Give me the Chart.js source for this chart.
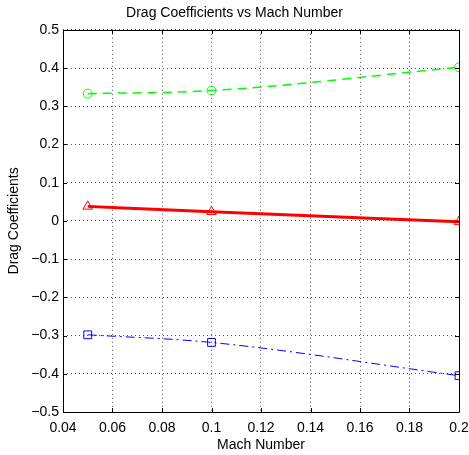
<!DOCTYPE html>
<html>
<head>
<meta charset="utf-8">
<script src="https://cdn.jsdelivr.net/npm/chart.js@4/dist/chart.umd.min.js"></script>
<style>
  html, body { margin: 0; padding: 0; background: #fff; }
  #wrap { width: 469px; height: 455px; position: relative; }
</style>
</head>
<body>
<div id="wrap"><canvas id="dragChart"></canvas></div>
<script>
// Data
const machNumbers = [0.05, 0.1, 0.2];
const seriesGreen = [0.333, 0.341, 0.402];
const seriesRed = [0.038, 0.024, -0.002];
const seriesBlue = [-0.298, -0.318, -0.405];
const xTicks = [0.04, 0.06, 0.08, 0.1, 0.12, 0.14, 0.16, 0.18, 0.2];
const yTicks = [-0.5, -0.4, -0.3, -0.2, -0.1, 0, 0.1, 0.2, 0.3, 0.4, 0.5];

const fontFamily = 'Liberation Sans, Arial, Helvetica, sans-serif';

function toPoints(values) {
    return machNumbers.map(function(x, i) { return { x: x, y: values[i] }; });
}

function fmt(v) {
    const s = String(Number(v.toFixed(2)));
    return s.replace('-', '\u2212');
}

// MATLAB-like box: frame on all sides with small inward ticks
const boxPlugin = {
    id: 'matlabBox',
    afterDraw: function(chart) {
        const ctx = chart.ctx;
        const a = chart.chartArea;
        const xs = chart.scales.x, ys = chart.scales.y;
        ctx.save();
        ctx.strokeStyle = '#000';
        ctx.lineWidth = 1;
        ctx.beginPath();
        ctx.rect(Math.round(a.left) + 0.5, Math.round(a.top) + 0.5,
                 Math.round(a.right - a.left), Math.round(a.bottom - a.top));
        ctx.stroke();
        const len = 4;
        ctx.beginPath();
        xTicks.forEach(function(t) {
            const px = Math.round(xs.getPixelForValue(t)) + 0.5;
            ctx.moveTo(px, a.bottom); ctx.lineTo(px, a.bottom - len);
            ctx.moveTo(px, a.top); ctx.lineTo(px, a.top + len);
        });
        yTicks.forEach(function(t) {
            const py = Math.round(ys.getPixelForValue(t)) + 0.5;
            ctx.moveTo(a.left, py); ctx.lineTo(a.left + len, py);
            ctx.moveTo(a.right, py); ctx.lineTo(a.right - len, py);
        });
        ctx.stroke();
        ctx.restore();
    }
};

const ctx = document.getElementById('dragChart');
new Chart(ctx.getContext('2d'), {
    type: 'line',
    data: {
        datasets: [{
            label: 'green',
            data: toPoints(seriesGreen),
            borderColor: '#00ff00',
            backgroundColor: 'transparent',
            borderWidth: 1.5,
            borderDash: [9, 6],
            cubicInterpolationMode: 'monotone',
            pointStyle: 'circle',
            pointRadius: 4.5,
            pointBorderWidth: 1,
            pointBorderColor: '#00ff00',
            pointBackgroundColor: 'transparent'
        }, {
            label: 'red',
            data: toPoints(seriesRed),
            borderColor: '#ff0000',
            backgroundColor: 'transparent',
            borderWidth: 3,
            cubicInterpolationMode: 'monotone',
            pointStyle: 'triangle',
            pointRadius: 5.5,
            pointBorderWidth: 1,
            pointBorderColor: '#ff0000',
            pointBackgroundColor: 'transparent'
        }, {
            label: 'blue',
            data: toPoints(seriesBlue),
            borderColor: '#0000ff',
            backgroundColor: 'transparent',
            borderWidth: 1,
            borderDash: [9, 4, 2, 4],
            cubicInterpolationMode: 'monotone',
            pointStyle: 'rect',
            pointRadius: 5.5,
            pointBorderWidth: 1,
            pointBorderColor: '#0000ff',
            pointBackgroundColor: 'transparent'
        }]
    },
    options: {
        responsive: true,
        maintainAspectRatio: false,
        animation: false,
        layout: { padding: { right: 0, top: 0, left: 0, bottom: 0 } },
        plugins: {
            legend: { display: false },
            tooltip: { enabled: false },
            title: {
                display: true,
                text: 'Drag Coefficients vs Mach Number',
                color: '#000',
                font: { family: fontFamily, size: 14, weight: 'normal' },
                padding: { top: 5, bottom: 8 }
            }
        },
        scales: {
            x: {
                type: 'linear',
                min: 0.04,
                max: 0.2,
                afterBuildTicks: function(scale) {
                    scale.ticks = xTicks.map(function(v) { return { value: v }; });
                },
                afterFit: function(scale) {
                    scale.height = 43;
                    scale.paddingRight = 10;
                },
                border: { display: false, dash: [1, 3] },
                grid: {
                    color: '#555',
                    drawTicks: false
                },
                ticks: {
                    color: '#000',
                    padding: 8,
                    maxRotation: 0,
                    autoSkip: false,
                    font: { family: fontFamily, size: 14 },
                    callback: function(v) { return fmt(v); }
                },
                title: {
                    display: true,
                    text: 'Mach Number',
                    color: '#000',
                    padding: { top: 0, bottom: 1 },
                    font: { family: fontFamily, size: 14 }
                }
            },
            y: {
                type: 'linear',
                min: -0.5,
                max: 0.5,
                afterBuildTicks: function(scale) {
                    scale.ticks = yTicks.map(function(v) { return { value: v }; });
                },
                afterFit: function(scale) { scale.width = 63; },
                border: { display: false, dash: [1, 3] },
                grid: {
                    color: '#555',
                    drawTicks: false
                },
                ticks: {
                    color: '#000',
                    padding: 4,
                    autoSkip: false,
                    font: { family: fontFamily, size: 14 },
                    callback: function(v) { return fmt(v); }
                },
                title: {
                    display: true,
                    text: 'Drag Coefficients',
                    color: '#000',
                    padding: { top: 6, bottom: 0 },
                    font: { family: fontFamily, size: 14 }
                }
            }
        }
    },
    plugins: [boxPlugin]
});
</script>
</body>
</html>
